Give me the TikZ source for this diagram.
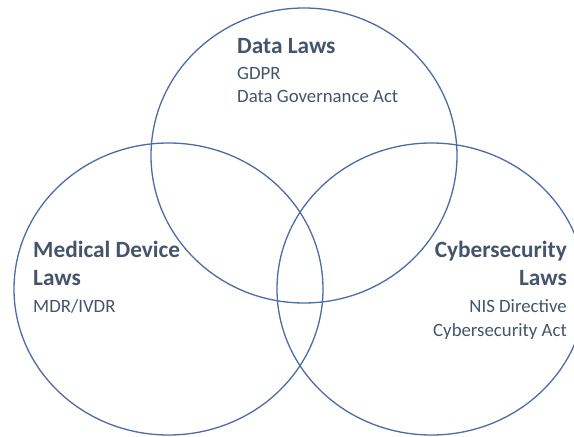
\documentclass[tikz,border=0pt]{standalone}
\usepackage{fontspec}
\setmainfont{Carlito}
\definecolor{ringblue}{HTML}{4A6CA8}
\definecolor{txt}{HTML}{44546A}
\tikzset{
  ring/.style={draw=ringblue, line width=1.3pt},
  head/.style={inner sep=0pt, text=txt, font=\fontsize{23.3}{27}\selectfont\bfseries},
  sub/.style={inner sep=0pt, text=txt, font=\fontsize{18.8}{23}\selectfont},
}
\begin{document}
\begin{tikzpicture}[x=1pt,y=-1pt]
\useasboundingbox (0,0) rectangle (574,437);
\begin{scope}
\clip (0,0) rectangle (574,437);
\draw[ring] (304,155.5) ellipse [x radius=153, y radius=147.5];
\draw[ring] (168.5,289) ellipse [x radius=154.5, y radius=146];
\draw[ring] (431.5,289) ellipse [x radius=154.5, y radius=146];
\end{scope}
% Data laws
\node[head, anchor=base west] (dh) at (237,53) {Data Laws};
\node[sub, anchor=base west] (d1) at (237,79) {GDPR};
\node[sub, anchor=base west] (d2) at (237,102) {Data Governance Act};
% Medical device laws
\node[head, anchor=base west] (mh1) at (33,257) {Medical Device};
\node[head, anchor=base west] (mh2) at (33,285) {Laws};
\node[sub, anchor=base west] (m1) at (33,312) {MDR/IVDR};
% Cybersecurity laws
\node[head, anchor=base east] (ch1) at (567,257) {Cybersecurity};
\node[head, anchor=base east] (ch2) at (567,285) {Laws};
\node[sub, anchor=base east] (c1) at (567,312) {NIS Directive};
\node[sub, anchor=base east] (c2) at (567,336) {Cybersecurity Act};
\end{tikzpicture}
\end{document}
